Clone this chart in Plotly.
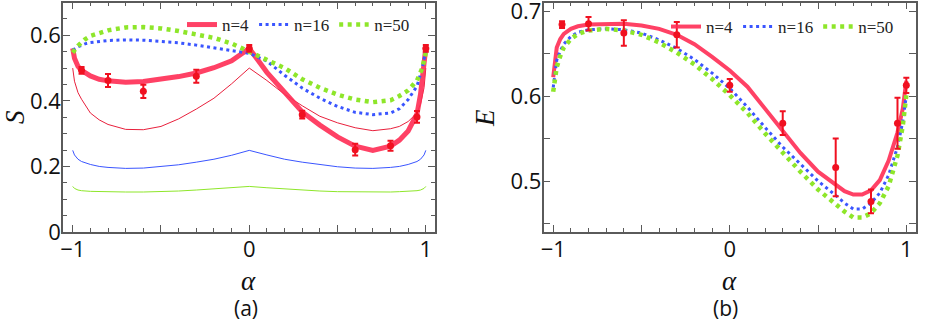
import plotly.graph_objects as go

# ---------------- data ----------------
alpha_a = [-1, -0.99, -0.97, -0.95, -0.9, -0.85, -0.8, -0.7, -0.6, -0.5, -0.4, -0.3, -0.2, -0.1, 0,
           0.1, 0.2, 0.3, 0.4, 0.5, 0.6, 0.7, 0.8, 0.85, 0.9, 0.93, 0.95, 0.97, 0.99, 1]
S_n4 = [0.560, 0.530, 0.505, 0.493, 0.476, 0.466, 0.461, 0.457, 0.459, 0.465, 0.474, 0.485, 0.501, 0.522, 0.560,
        0.487, 0.425, 0.366, 0.326, 0.290, 0.262, 0.249, 0.262, 0.280, 0.308, 0.335, 0.360, 0.420, 0.500, 0.562]

alpha_t = [-1, -0.99, -0.97, -0.95, -0.9, -0.85, -0.8, -0.7, -0.6, -0.5, -0.4, -0.3, -0.2, -0.1, 0,
           0.1, 0.2, 0.3, 0.4, 0.5, 0.6, 0.7, 0.8, 0.85, 0.9, 0.95, 0.97, 0.99, 1]
S_thin4 = [0.500, 0.460, 0.425, 0.405, 0.363, 0.342, 0.328, 0.313, 0.312, 0.322, 0.345, 0.375, 0.408, 0.452, 0.500,
           0.462, 0.420, 0.385, 0.353, 0.333, 0.318, 0.309, 0.315, 0.322, 0.337, 0.363, 0.390, 0.440, 0.500]
S_thin16 = [0.249, 0.235, 0.222, 0.215, 0.206, 0.200, 0.197, 0.194, 0.195, 0.199, 0.205, 0.213, 0.222, 0.234, 0.249,
            0.235, 0.222, 0.213, 0.205, 0.199, 0.195, 0.194, 0.197, 0.200, 0.206, 0.215, 0.222, 0.235, 0.249]
S_thin50 = [0.139, 0.133, 0.128, 0.126, 0.124, 0.123, 0.122, 0.122, 0.122, 0.123, 0.125, 0.128, 0.131, 0.135, 0.139,
            0.135, 0.131, 0.128, 0.125, 0.123, 0.122, 0.122, 0.122, 0.123, 0.124, 0.126, 0.128, 0.133, 0.139]

alpha_d = [-1, -0.97, -0.93, -0.9, -0.8, -0.7, -0.6, -0.5, -0.4, -0.3, -0.2, -0.1, 0,
           0.1, 0.2, 0.3, 0.4, 0.5, 0.6, 0.7, 0.8, 0.85, 0.9, 0.95, 0.98, 1]
S_n16 = [0.555, 0.565, 0.574, 0.578, 0.584, 0.586, 0.585, 0.582, 0.577, 0.570, 0.562, 0.554, 0.545,
         0.521, 0.478, 0.439, 0.408, 0.383, 0.365, 0.358, 0.363, 0.376, 0.404, 0.445, 0.500, 0.555]
S_n50 = [0.547, 0.568, 0.588, 0.598, 0.615, 0.624, 0.625, 0.621, 0.613, 0.604, 0.592, 0.575, 0.551,
         0.527, 0.500, 0.466, 0.440, 0.419, 0.404, 0.396, 0.402, 0.415, 0.432, 0.462, 0.500, 0.547]

alpha_b = [-1, -0.99, -0.98, -0.96, -0.94, -0.9, -0.86, -0.8, -0.7, -0.6, -0.5, -0.4, -0.3, -0.2, -0.1, 0,
           0.1, 0.2, 0.3, 0.4, 0.5, 0.6, 0.65, 0.7, 0.75, 0.8, 0.85, 0.9, 0.95, 0.98, 1]
E_n4 = [0.622, 0.645, 0.657, 0.667, 0.673, 0.679, 0.682, 0.684, 0.685, 0.685, 0.683, 0.679, 0.672, 0.661, 0.646, 0.630,
        0.611, 0.585, 0.558, 0.533, 0.511, 0.495, 0.488, 0.484, 0.484, 0.489, 0.501, 0.524, 0.557, 0.585, 0.618]
E_n16 = [0.610, 0.628, 0.642, 0.653, 0.661, 0.670, 0.675, 0.678, 0.679, 0.678, 0.674, 0.666, 0.656, 0.643, 0.627, 0.609,
         0.587, 0.563, 0.540, 0.520, 0.500, 0.483, 0.474, 0.467, 0.467, 0.474, 0.486, 0.507, 0.540, 0.570, 0.600]
E_n50 = [0.605, 0.622, 0.634, 0.647, 0.657, 0.667, 0.673, 0.677, 0.679, 0.677, 0.672, 0.663, 0.651, 0.637, 0.620, 0.601,
         0.580, 0.556, 0.533, 0.511, 0.490, 0.472, 0.464, 0.457, 0.457, 0.462, 0.474, 0.494, 0.530, 0.565, 0.601]

alpha_exp = [-0.95, -0.8, -0.6, -0.3, 0, 0.3, 0.6, 0.8, 0.95, 1.0]
S_exp = [0.493, 0.462, 0.429, 0.475, 0.560, 0.358, 0.251, 0.263, 0.351, 0.560]
S_err = [0.010, 0.020, 0.020, 0.020, 0.010, 0.012, 0.018, 0.015, 0.018, 0.010]
E_exp = [0.684, 0.685, 0.674, 0.672, 0.6125, 0.568, 0.516, 0.476, 0.568, 0.6125]
E_err = [0.004, 0.008, 0.015, 0.015, 0.0075, 0.014, 0.034, 0.014, 0.030, 0.009]

legend_names = ["n=4", "n=16", "n=50"]

# ---------------- styles ----------------
RED = "#ff2d55"
RED_THIN = "#e8203c"
BLUE = "#3a55ff"
GREEN = "#8ee62a"
FRAME = "#5a5a5a"

fig = go.Figure()

# ---- panel (a) ----
for yv, col in [(S_thin4, RED_THIN), (S_thin16, BLUE), (S_thin50, GREEN)]:
    fig.add_trace(go.Scatter(x=alpha_t, y=yv, mode="lines", line=dict(color=col, width=1),
                             showlegend=False, xaxis="x", yaxis="y", hoverinfo="skip"))
fig.add_trace(go.Scatter(x=alpha_a, y=S_n4, mode="lines", name=legend_names[0],
                         line=dict(color=RED, width=5), opacity=0.9, legend="legend", xaxis="x", yaxis="y"))
fig.add_trace(go.Scatter(x=alpha_d, y=S_n16, mode="lines", name=legend_names[1],
                         line=dict(color=BLUE, width=3, dash="3px,3.5px"), legend="legend", xaxis="x", yaxis="y"))
fig.add_trace(go.Scatter(x=alpha_d, y=S_n50, mode="lines", name=legend_names[2],
                         line=dict(color=GREEN, width=4.5, dash="4px,4.5px"), legend="legend", xaxis="x", yaxis="y"))
fig.add_trace(go.Scatter(x=alpha_exp, y=S_exp, mode="markers", showlegend=False,
                         marker=dict(color="#f01020", size=7),
                         error_y=dict(type="data", array=S_err, color="#f01020", thickness=2, width=3),
                         xaxis="x", yaxis="y"))

# ---- panel (b) ----
fig.add_trace(go.Scatter(x=alpha_b, y=E_n4, mode="lines", name=legend_names[0],
                         line=dict(color=RED, width=4), opacity=0.9, legend="legend2", xaxis="x2", yaxis="y2"))
fig.add_trace(go.Scatter(x=alpha_b, y=E_n16, mode="lines", name=legend_names[1],
                         line=dict(color=BLUE, width=3, dash="3px,3.5px"), legend="legend2", xaxis="x2", yaxis="y2"))
fig.add_trace(go.Scatter(x=alpha_b, y=E_n50, mode="lines", name=legend_names[2],
                         line=dict(color=GREEN, width=4.5, dash="4px,4.5px"), legend="legend2", xaxis="x2", yaxis="y2"))
fig.add_trace(go.Scatter(x=alpha_exp, y=E_exp, mode="markers", showlegend=False,
                         marker=dict(color="#f01020", size=7),
                         error_y=dict(type="data", array=E_err, color="#f01020", thickness=2, width=3),
                         xaxis="x2", yaxis="y2"))

W, H = 926, 323
tickfont = dict(family="Open Sans, Liberation Sans, Arial", size=22, color="#111")

xcommon = dict(range=[-1.055, 1.052], tickvals=[-1, -0.5, 0, 0.5, 1],
               ticktext=["\u22121", "", "0", "", "1"], ticks="inside", ticklen=7, tickwidth=1,
               tickcolor=FRAME, mirror="ticks", showline=True, linecolor=FRAME, linewidth=1.5,
               showgrid=False, zeroline=False, tickfont=tickfont, automargin=False,
               ticklabeloverflow="allow", ticklabelstandoff=-3,
               minor=dict(dtick=0.1, tick0=0, ticks="inside", ticklen=4, tickcolor=FRAME, showgrid=False))
ydom = [1 - 232 / H, 1 - 2.5 / H]
ycommon = dict(ticks="inside", ticklen=7, tickcolor=FRAME, mirror="ticks", showline=True,
               linecolor=FRAME, linewidth=1.5, showgrid=False, zeroline=False, tickfont=tickfont,
               automargin=False, ticklabeloverflow="allow", ticklabelstandoff=-4)

fig.update_layout(
    width=W, height=H, margin=dict(l=0, r=0, t=0, b=0),
    paper_bgcolor="white", plot_bgcolor="white",
    xaxis=dict(domain=[63 / W, 435 / W], anchor="y", **xcommon),
    xaxis2=dict(domain=[543.5 / W, 915.5 / W], anchor="y2", **xcommon),
    yaxis=dict(domain=ydom, anchor="x", range=[0, 0.70], tickvals=[0, 0.2, 0.4, 0.6],
               ticktext=["0", "0.2", "0.4", "0.6"],
               minor=dict(dtick=0.05, tick0=0, ticks="inside", ticklen=4, tickcolor=FRAME, showgrid=False),
               **ycommon),
    yaxis2=dict(domain=ydom, anchor="x2", range=[0.44, 0.71],
                tickvals=[0.45, 0.5, 0.55, 0.6, 0.65, 0.7],
                ticktext=["", "0.5", "", "0.6", "", "0.7"], **ycommon),
    legend=dict(orientation="h", x=415 / W, xanchor="right", y=1 - 25 / H, yanchor="middle",
                bgcolor="rgba(0,0,0,0)", font=dict(family="Liberation Serif, Times New Roman", size=17, color="#222"),
                itemwidth=30, tracegroupgap=0),
    legend2=dict(orientation="h", x=899 / W, xanchor="right", y=1 - 27 / H, yanchor="middle",
                 bgcolor="rgba(0,0,0,0)", font=dict(family="Liberation Serif, Times New Roman", size=17, color="#222"),
                 itemwidth=30, tracegroupgap=0),
)

ann_font_it = dict(family="Liberation Serif, Times New Roman", size=27, color="#111")
ann_font_lbl = dict(family="Open Sans, Liberation Sans, Arial", size=21, color="#111")
common_ann = dict(xref="paper", yref="paper", showarrow=False, xanchor="center", yanchor="middle")
fig.add_annotation(text="<i>S</i>", x=15 / W, y=1 - 117 / H, textangle=-90, font=ann_font_it, **common_ann)
fig.add_annotation(text="<i>E</i>", x=485 / W, y=1 - 118 / H, textangle=-90, font=ann_font_it, **common_ann)
fig.add_annotation(text="<i>\u03b1</i>", x=248 / W, y=1 - 281 / H, font=ann_font_it, **common_ann)
fig.add_annotation(text="<i>\u03b1</i>", x=729 / W, y=1 - 281 / H, font=ann_font_it, **common_ann)
fig.add_annotation(text="(a)", x=246 / W, y=1 - 308 / H, font=ann_font_lbl, **common_ann)
fig.add_annotation(text="(b)", x=725 / W, y=1 - 308 / H, font=ann_font_lbl, **common_ann)

fig.write_html("out.html", config={"displayModeBar": False},
               post_script="document.body.style.margin='0px';")
